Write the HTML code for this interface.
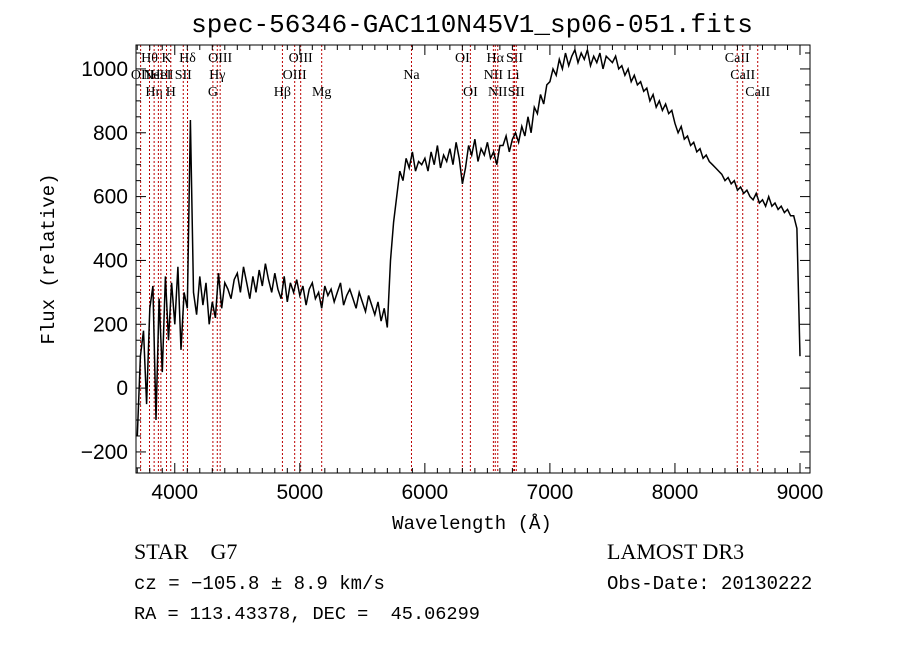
<!DOCTYPE html>
<html><head><meta charset="utf-8">
<style>
html,body{margin:0;padding:0;background:#fff;}
svg text{font-family:"Liberation Sans",sans-serif;fill:#000;white-space:pre;}
.mono{font-family:"Liberation Mono",monospace !important;}
.serif{font-family:"Liberation Serif",serif !important;}
</style></head>
<body>
<svg id="chart" width="900" height="649" viewBox="0 0 900 649" xmlns="http://www.w3.org/2000/svg" xml:space="preserve">
<rect width="900" height="649" fill="#fff"/>
<text class="mono" x="472" y="32" font-size="26" text-anchor="middle">spec-56346-GAC110N45V1_sp06-051.fits</text>
<g id="lines"></g>
<g id="series"></g>
<g id="axes"></g>
<text class="mono" x="472" y="529" font-size="19" text-anchor="middle">Wavelength (Å)</text>
<text class="mono" transform="translate(54,259) rotate(-90)" font-size="19" text-anchor="middle">Flux (relative)</text>
<text class="serif" x="134" y="559" font-size="22">STAR    G7</text>
<text class="mono" x="134" y="589" font-size="19">cz = −105.8 ± 8.9 km/s</text>
<text class="mono" x="134" y="619" font-size="18.6">RA = 113.43378, DEC =  45.06299</text>
<text class="serif" x="607" y="559" font-size="22">LAMOST DR3</text>
<text class="mono" x="607" y="589" font-size="19">Obs-Date: 20130222</text>
</svg>
<script>
const wlStart = 3700, wlStep = 25;
const flux = [-150,100,180,-50,250,320,-100,280,50,350,150,330,
200,380,120,300,250,840,300,230,350,260,330,200,270,220,360,250,330,310,280,340,360,300,380,330,280,350,300,370,320,390,340,300,360,310,280,350,270,330,300,340,
290,320,260,310,330,280,300,250,320,290,310,270,300,330,260,290,310,280,250,300,270,240,290,260,230,270,210,250,190,400,520,600,680,650,720,690,740,680,710,700,
720,680,740,700,760,690,730,710,750,700,770,720,640,690,760,730,780,710,750,730,770,720,740,700,760,760,790,740,780,800,770,820,790,850,800,880,860,920,890,950,
960,1000,980,1030,1000,1050,1010,1040,1060,1020,1050,1030,1060,1010,1040,1020,1050,1000,1040,1030,1020,1040,1000,1010,980,1000,960,980,950,960,930,940,900,920,880,900,870,890,860,870,
830,800,820,780,790,760,770,740,750,720,730,710,700,690,680,670,650,660,640,650,620,630,610,620,600,590,610,580,590,570,600,570,580,560,570,550,560,540,540,500,
100];
const lineWaves = [3727,3798,3835,3869,3889,3934,3968,4068,4102,4305,4340,4363,4861,4959,5007,5175,5893,6300,6364,6548,6563,6583,6707,6717,6731,8498,8542,8662];
const lineLabels = ["OII","Hθ","Hη","NeIII","HeI","K","H","SII","Hδ","G","Hγ","OIII","Hβ","OIII","OIII","Mg","Na","OI","OI","NII","Hα","NII","Li","SII","SII","CaII","CaII","CaII"];
const lineRows = [1,0,2,1,1,0,2,1,0,2,1,0,2,1,0,2,1,0,2,1,0,2,1,0,2,0,1,2];
const xTicks = [4000,5000,6000,7000,8000,9000];
const yTicks = [-200,0,200,400,600,800,1000];

const X0=136,X1=810,Y0=45,Y1=473;
const xMin=3690,xMax=9080,yMin=-266,yMax=1075;
const xs=w=>X0+(w-xMin)/(xMax-xMin)*(X1-X0);
const ys=v=>Y1-(v-yMin)/(yMax-yMin)*(Y1-Y0);
const NS="http://www.w3.org/2000/svg";
function mk(tag,attrs,parent){const e=document.createElementNS(NS,tag);for(const k in attrs)e.setAttribute(k,attrs[k]);parent.appendChild(e);return e;}

const lg=document.getElementById('lines');
lineWaves.forEach((w,i)=>{
  const l=mk('line',{x1:xs(w),x2:xs(w),y1:Y0,y2:Y1,stroke:'#b00',"stroke-width":1,"stroke-dasharray":"2,2"},lg);
  
  
  const t=mk('text',{x:xs(w),y:62+lineRows[i]*17,"font-size":14,"text-anchor":"middle",class:"serif"},lg);
  
  
  t.textContent=lineLabels[i];
});

const sg=document.getElementById('series');
let d='';
flux.forEach((v,i)=>{d+=(i?'L':'M')+xs(wlStart+i*wlStep).toFixed(1)+','+ys(v).toFixed(1);});
const p=mk('path',{d:d,fill:'none',stroke:'#000',"stroke-width":1.5},sg);



const ag=document.getElementById('axes');
const fr=mk('rect',{x:X0,y:Y0,width:X1-X0,height:Y1-Y0,fill:'none',stroke:'#000',"stroke-width":1},ag);


for(let w=3700;w<=xMax;w+=100){
  const major=(w%1000===0),L=major?10:5;
  mk('line',{x1:xs(w),x2:xs(w),y1:Y1,y2:Y1-L,stroke:'#000'},ag);
  mk('line',{x1:xs(w),x2:xs(w),y1:Y0,y2:Y0+L,stroke:'#000'},ag);
}
for(let v=-250;v<=yMax;v+=50){
  const major=(v%200===0),L=major?10:5;
  mk('line',{x1:X0,x2:X0+L,y1:ys(v),y2:ys(v),stroke:'#000'},ag);
  mk('line',{x1:X1,x2:X1-L,y1:ys(v),y2:ys(v),stroke:'#000'},ag);
}
xTicks.forEach(w=>{
  const t=mk('text',{x:xs(w),y:Y1+26,"font-size":21,"text-anchor":"middle"},ag);
  
  
  t.textContent=w;
});
yTicks.forEach(v=>{
  const t=mk('text',{x:X0-8,y:ys(v)+7,"font-size":21,"text-anchor":"end"},ag);
  
  
  t.textContent=v<0?'−'+Math.abs(v):v;
});
</script>
</body></html>
